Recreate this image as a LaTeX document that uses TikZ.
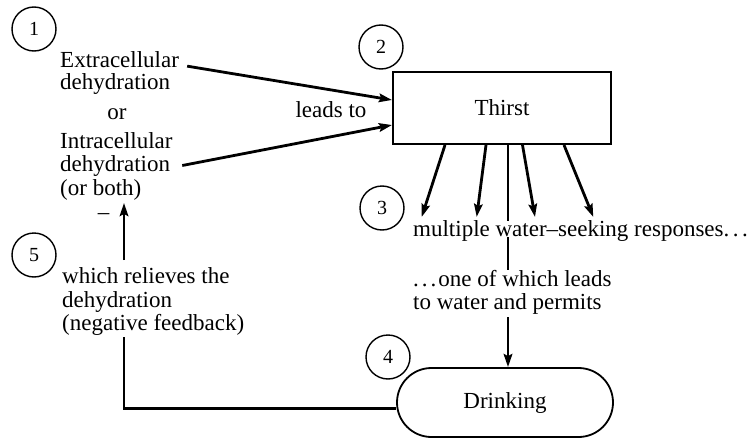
\documentclass[tikz,border=0pt]{standalone}
\usepackage{fontspec}
\setmainfont{Liberation Serif}
\usetikzlibrary{arrows.meta,shapes.misc}
\begin{document}
\begin{tikzpicture}[x=1pt,y=-1pt,
  num/.style={circle,draw,line width=1.4pt,minimum size=44pt,inner sep=0pt,font=\fontsize{20}{22}\selectfont},
  txt/.style={inner sep=0pt,font=\fontsize{23}{23}\selectfont},
  ln/.style={line width=2.8pt},
  arr/.style={line width=2.8pt,-{Stealth[length=13pt,width=8.5pt,inset=2pt]}},
  box/.style={draw,line width=2pt,minimum width=218pt,minimum height=72pt,inner sep=0pt,font=\fontsize{23}{23}\selectfont},
  pill/.style={draw,rounded rectangle,line width=1.8pt,minimum width=216pt,minimum height=69pt,inner sep=0pt,font=\fontsize{23}{23}\selectfont}]
\useasboundingbox (0,0) rectangle (753,439);
\fill[white] (0,0) rectangle (753,439);
% numbered circles
\node[num] (c1) at (34,29) {1};
\node[num] (c2) at (381,47) {2};
\node[num] (c3) at (382,208) {3};
\node[num] (c4) at (388,357) {4};
\node[num] (c5) at (34,255) {5};
% left texts
\node[txt,anchor=base west] (e1) at (60,67) {Extracellular};
\node[txt,anchor=base west] (e2) at (60,89) {dehydration};
\node[txt,anchor=base] (or) at (117,119) {or};
\node[txt,anchor=base west] (i1) at (60,148) {Intracellular};
\node[txt,anchor=base west] (i2) at (60,171) {dehydration};
\node[txt,anchor=base west] (i3) at (60,195) {(or both)};
\node[txt,anchor=base] (minus) at (103.5,219) {–};
\node[txt,anchor=base west] (f1) at (62,283) {which relieves the};
\node[txt,anchor=base west] (f2) at (62,307) {dehydration};
\node[txt,anchor=base west] (f3) at (62,330) {(negative feedback)};
% main nodes
\node[box] (thirst) at (502,108) {Thirst};
\node[txt,anchor=base] (leads) at (331,117) {leads to};
\node[txt,anchor=base west] (resp) at (413,236) {multiple water--seeking responses.\kern3.5pt.\kern3.5pt.};
\node[txt,anchor=base west] (one1) at (413,286) {.\kern3pt.\kern3pt.\kern2pt one of which leads};
\node[txt,anchor=base west] (one2) at (413,309) {to water and permits};
\node[pill] (drink) at (505,402.5) {Drinking};
% inputs to thirst
\draw[arr] ([xshift=8pt,yshift=-7pt]e1.east) -- ([yshift=8pt]thirst.west);
\draw[arr] ([xshift=12pt]i2.east) -- ([yshift=-17pt]thirst.west);
% responses
\coordinate (t1) at (421.7,217);
\coordinate (t2) at (476.7,217);
\coordinate (t4) at (535,217);
\coordinate (t5) at (593.3,217);
\draw[arr] ([xshift=-57pt]thirst.south) -- (t1);
\draw[arr] ([xshift=-16pt]thirst.south) -- (t2);
\draw[arr] ([xshift=20.5pt]thirst.south) -- (t4);
\draw[arr] ([xshift=62pt]thirst.south) -- (t5);
\coordinate (vx) at (508,0);
\draw[ln] (thirst.south -| vx) -- ([yshift=-1pt]resp.north -| vx);
\draw[ln] ([yshift=4pt]resp.south -| vx) -- (one1.north -| vx);
\draw[arr] ([yshift=-3pt]one2.south -| vx) -- (drink.north -| vx);
% feedback
\coordinate (fbbot) at (124,337);
\coordinate (fbtop) at (124,260);
\coordinate (fbtip) at (124,203);
\draw[ln] ([yshift=-6pt]drink.west) -| (fbbot);
\draw[arr] (fbtop) -- (fbtip);
\end{tikzpicture}
\end{document}
